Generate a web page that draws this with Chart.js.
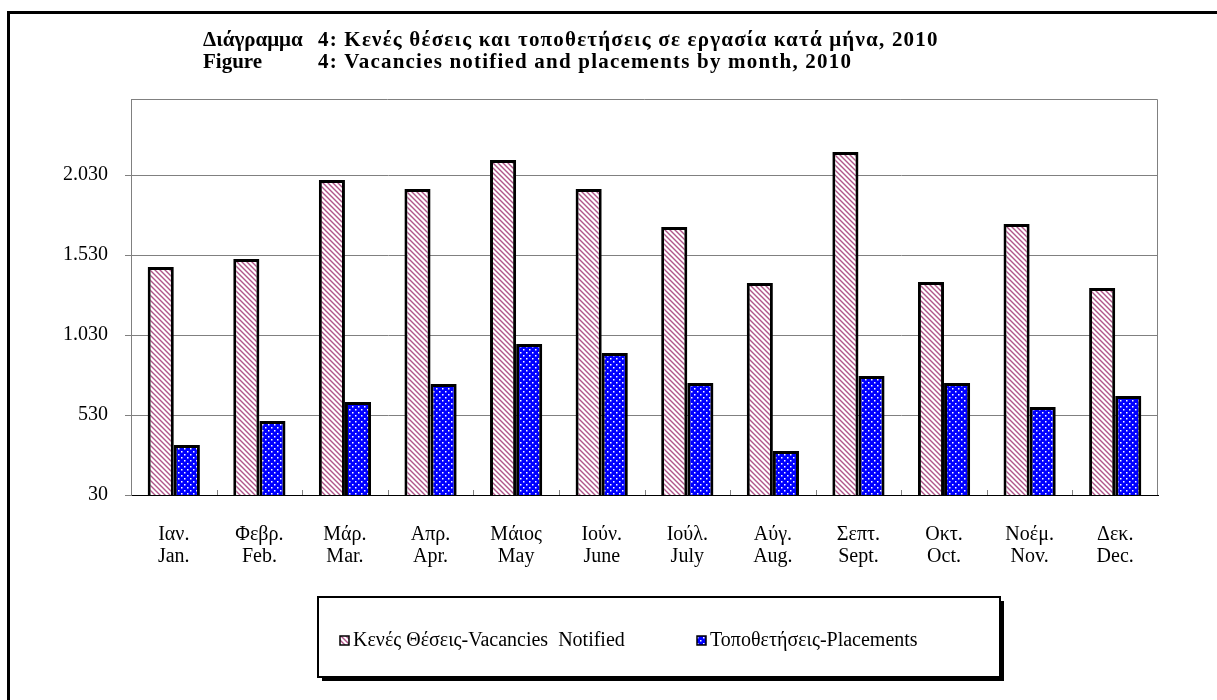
<!DOCTYPE html>
<html>
<head>
<meta charset="utf-8">
<script src="https://cdn.jsdelivr.net/npm/chart.js@4/dist/chart.umd.min.js"></script>
<style>
  html, body { margin: 0; padding: 0; background: #fff; }
</style>
</head>
<body>
<canvas id="chart" width="1217" height="700"></canvas>
<script>
const monthsGr = ['Ιαν.', 'Φεβρ.', 'Μάρ.', 'Απρ.', 'Μάιος', 'Ιούν.', 'Ιούλ.', 'Αύγ.', 'Σεπτ.', 'Οκτ.', 'Νοέμ.', 'Δεκ.'];
const monthsEn = ['Jan.', 'Feb.', 'Mar.', 'Apr.', 'May', 'June', 'July', 'Aug.', 'Sept.', 'Oct.', 'Nov.', 'Dec.'];
const vacancies = [1455, 1505, 1999, 1942, 2124, 1942, 1705, 1355, 2174, 1361, 1724, 1324];
const placements = [342, 492, 611, 724, 974, 918, 730, 305, 774, 730, 580, 649];
const yTicks = [30, 530, 1030, 1530, 2030];
const seriesNames = ['Κενές Θέσεις-Vacancies  Notified', 'Τοποθετήσεις-Placements'];
const titleHeads = ['Διάγραμμα', 'Figure'];
const titleTexts = [
  '4: Κενές θέσεις και τοποθετήσεις σε εργασία κατά μήνα, 2010',
  '4: Vacancies notified and placements by month, 2010'
];

const serif = '"Liberation Serif", "Times New Roman", serif';

// fill patterns: pink hatching and blue with white dots
function hatchPattern() {
  const c = document.createElement('canvas');
  c.width = 5; c.height = 5;
  const g = c.getContext('2d');
  g.fillStyle = '#fff';
  g.fillRect(0, 0, 5, 5);
  g.strokeStyle = '#b0558a';
  g.lineWidth = 1.4;
  g.beginPath();
  for (const off of [-5, 0, 5]) {
    g.moveTo(off - 1, -1);
    g.lineTo(off + 6, 6);
  }
  g.stroke();
  return g.createPattern(c, 'repeat');
}

function dotPattern() {
  const c = document.createElement('canvas');
  c.width = 6; c.height = 6;
  const g = c.getContext('2d');
  g.fillStyle = '#0000ff';
  g.fillRect(0, 0, 6, 6);
  g.fillStyle = '#ffffff';
  g.fillRect(1, 1, 1.5, 1.5);
  g.fillRect(4, 4, 1.5, 1.5);
  return g.createPattern(c, 'repeat');
}

const hatch = hatchPattern();
const dots = dotPattern();

function fmt(v) {
  return String(v).replace(/\B(?=(\d{3})+(?!\d))/g, '.');
}

const decorations = {
  id: 'decorations',
  beforeDraw(chart) {
    const ctx = chart.ctx;
    ctx.save();
    ctx.fillStyle = '#fff';
    ctx.fillRect(0, 0, chart.width, chart.height);
    ctx.restore();
  },
  afterDraw(chart) {
    const ctx = chart.ctx;
    const a = chart.chartArea;
    const x = chart.scales.x;
    ctx.save();

    // outer frame (left and top edges only show in the picture)
    ctx.strokeStyle = '#000';
    ctx.lineWidth = 3;
    ctx.beginPath();
    ctx.moveTo(8.5, 700);
    ctx.lineTo(8.5, 12.5);
    ctx.lineTo(1217, 12.5);
    ctx.stroke();

    // plot area border top and right
    ctx.strokeStyle = '#808080';
    ctx.lineWidth = 1;
    ctx.beginPath();
    ctx.moveTo(a.left, a.top + 0.5);
    ctx.lineTo(a.right - 0.5, a.top + 0.5);
    ctx.lineTo(a.right - 0.5, a.bottom);
    ctx.stroke();

    // small inside ticks between categories
    ctx.beginPath();
    for (let i = 1; i < monthsEn.length; i++) {
      const px = Math.round((x.getPixelForValue(i - 1) + x.getPixelForValue(i)) / 2) + 0.5;
      ctx.moveTo(px, a.bottom);
      ctx.lineTo(px, a.bottom - 5);
    }
    ctx.stroke();

    // title
    ctx.fillStyle = '#000';
    ctx.font = 'bold 21px ' + serif;
    ctx.textBaseline = 'middle';
    ctx.textAlign = 'left';
    titleHeads.forEach((h, i) => {
      const y = 41 + i * 22;
      ctx.letterSpacing = '0px';
      ctx.fillText(h, 203, y);
      ctx.letterSpacing = '1.2px';
      ctx.fillText(titleTexts[i], 318, y);
    });
    ctx.letterSpacing = '0px';

    // legend box with shadow
    const bx = 318, by = 597, bw = 682, bh = 80;
    ctx.fillStyle = '#000';
    ctx.fillRect(bx + 4, by + 4, bw, bh);
    ctx.fillStyle = '#fff';
    ctx.fillRect(bx, by, bw, bh);
    ctx.strokeStyle = '#000';
    ctx.lineWidth = 2;
    ctx.strokeRect(bx, by, bw, bh);

    const items = [
      { x: 340, fill: hatch, text: seriesNames[0] },
      { x: 697, fill: dots, text: seriesNames[1] }
    ];
    ctx.font = '20px ' + serif;
    items.forEach(it => {
      ctx.fillStyle = it.fill;
      ctx.fillRect(it.x, 636, 9, 9);
      ctx.lineWidth = 1.5;
      ctx.strokeStyle = '#000';
      ctx.strokeRect(it.x, 636, 9, 9);
      ctx.fillStyle = '#000';
      ctx.fillText(it.text, it.x + 13, 641);
    });
    ctx.restore();
  }
};

new Chart(document.getElementById('chart'), {
  type: 'bar',
  data: {
    labels: monthsGr.map((g, i) => [g, monthsEn[i]]),
    datasets: [
      {
        label: seriesNames[0],
        data: vacancies,
        backgroundColor: hatch,
        borderColor: '#000',
        borderWidth: 3,
        borderSkipped: false
      },
      {
        label: seriesNames[1],
        data: placements,
        backgroundColor: dots,
        borderColor: '#000',
        borderWidth: 3,
        borderSkipped: false
      }
    ]
  },
  options: {
    responsive: false,
    animation: false,
    devicePixelRatio: 1,
    layout: { padding: { left: 7, top: 99, right: 59, bottom: 0 } },
    datasets: { bar: { categoryPercentage: 0.61, barPercentage: 1.0 } },
    plugins: {
      legend: { display: false },
      tooltip: { enabled: false }
    },
    scales: {
      x: {
        afterFit(scale) { scale.height = 205; },
        grid: { display: false, drawTicks: false },
        border: { display: true, color: '#000', width: 1 },
        ticks: {
          color: '#000',
          font: { family: serif, size: 20, lineHeight: 1.1 },
          padding: 29,
          maxRotation: 0,
          autoSkip: false
        }
      },
      y: {
        min: 30,
        max: 2505,
        afterFit(scale) { scale.width = 124; },
        afterBuildTicks(scale) { scale.ticks = yTicks.map(v => ({ value: v })); },
        grid: { color: '#808080', lineWidth: 1, tickLength: 6, drawTicks: true },
        border: { display: true, color: '#808080', width: 1 },
        ticks: {
          color: '#000',
          font: { family: serif, size: 20 },
          padding: 17,
          callback: v => fmt(v)
        }
      }
    }
  },
  plugins: [decorations]
});
</script>
</body>
</html>
